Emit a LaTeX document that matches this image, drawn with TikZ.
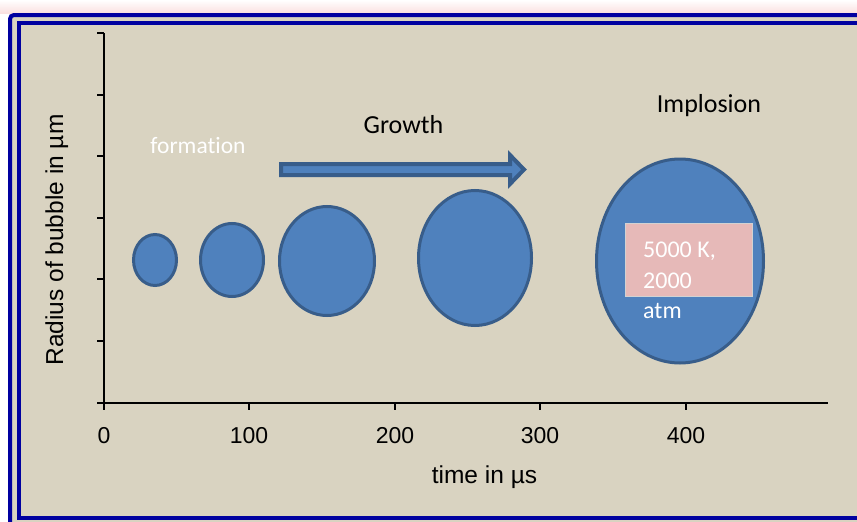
\documentclass[tikz,border=0pt]{standalone}
\usepackage{fontspec}
\setmainfont[Ligatures=NoCommon]{Carlito}
\newfontfamily\arialf{Liberation Sans}
\usetikzlibrary{shapes.geometric}
\definecolor{bg}{RGB}{217,211,193}
\definecolor{frameblue}{RGB}{0,0,160}
\definecolor{bubblefill}{HTML}{4F81BD}
\definecolor{bubbleline}{HTML}{385D8A}
\definecolor{pinkbox}{HTML}{E6B9B8}
\definecolor{glow}{RGB}{250,224,224}
\tikzset{
  bubble/.style={ellipse, draw=bubbleline, fill=bubblefill, line width=3pt, inner sep=0pt},
  axisline/.style={line width=1.3pt, black},
  ticklabel/.style={font=\arialf\fontsize{23}{27}\selectfont, inner sep=0pt, anchor=base},
  axistitle/.style={font=\arialf\fontsize{24.5}{29}\selectfont, inner sep=0pt, anchor=base},
  headtext/.style={font=\fontsize{26}{30}\selectfont, inner sep=0pt, anchor=base},
}
\begin{document}
\begin{tikzpicture}[x=1pt,y=-1pt]
\useasboundingbox (0,0) rectangle (857,522);
\fill[white] (0,0) rectangle (857,522);
\shade[top color=white, bottom color=glow] (0,0) rectangle (857,13);
\begin{scope}
\clip (0,0) rectangle (857,522);
\draw[frameblue, line width=4pt, fill=bg, rounded corners=4pt] (10,15) rectangle (875,532);
\draw[frameblue, line width=4pt] (19,23) rectangle (866,517.5);
\end{scope}
% axes
\coordinate (ytop) at (104,33);
\coordinate (orig) at (104,403);
\coordinate (xend) at (828,403);
\coordinate (yleft) at (97,403);
\draw[axisline] (ytop) -- (orig);
\draw[axisline] (yleft) -- (xend);
\foreach \yy in {33,95,156,218,279,341} \draw[axisline] (97,\yy) -- (104,\yy);
\foreach \xx in {104,249,395,540,686} \draw[axisline] (\xx,403) -- (\xx,410);
\node[ticklabel] (t0) at (104,443) {0};
\node[ticklabel] (t1) at (249,443) {100};
\node[ticklabel] (t2) at (395,443) {200};
\node[ticklabel] (t3) at (540,443) {300};
\node[ticklabel] (t4) at (686,443) {400};
\node[axistitle] (xt) at (484.5,483) {time in µs};
\node[axistitle, rotate=90] (yt) at (63,240) {Radius of bubble in µm};
% bubbles
\node[bubble, minimum width=43, minimum height=51] (b1) at (155,260) {};
\node[bubble, minimum width=63, minimum height=73] (b2) at (232,260) {};
\node[bubble, minimum width=95, minimum height=109] (b3) at (327,261) {};
\node[bubble, minimum width=113, minimum height=135] (b4) at (475,258) {};
\node[bubble, minimum width=167, minimum height=204] (b5) at (680,261) {};
% arrow
\draw[fill=bubblefill, draw=bubbleline, line width=4pt, line join=miter]
  (281,164) -- (510,164) -- (510,155) -- (524,169.5) -- (510,184) -- (510,175) -- (281,175) -- cycle;
% pink box
\node[rectangle, fill=pinkbox, draw=gray!35, line width=1pt, minimum width=127, minimum height=73, anchor=north west] (pb) at (624.5,222.5) {};
\node[anchor=north west, align=left, text=white, font=\fontsize{24}{30.5}\selectfont, inner sep=0pt] (pt) at (643,242) {5000 K,\\2000\\atm};
% labels
\node[headtext, text=white, font=\fontsize{23.5}{28}\selectfont] (form) at (198,153) {formation};
\node[headtext] (grow) at (403.5,133) {Growth};
\node[headtext] (impl) at (709,112) {Implosion};
\end{tikzpicture}
\end{document}
